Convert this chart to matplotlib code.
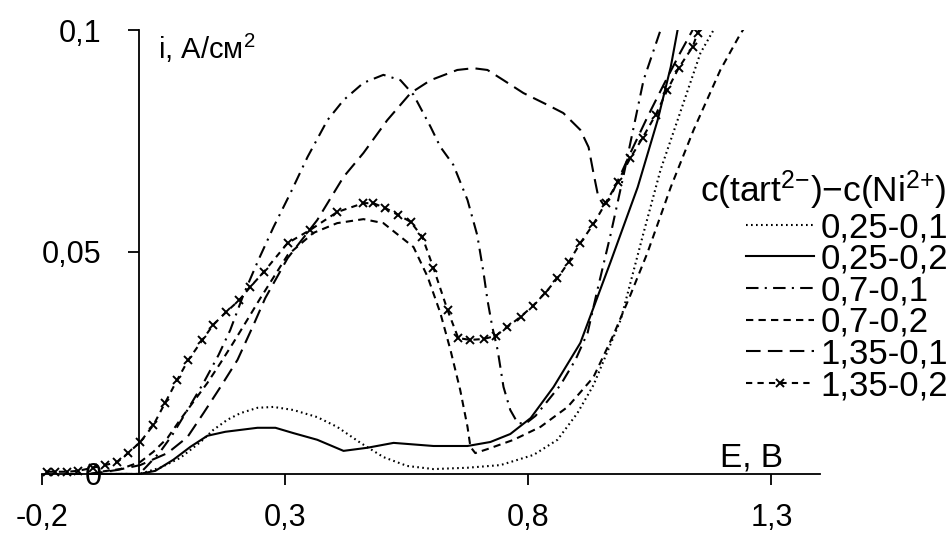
import matplotlib
matplotlib.use('Agg')
import matplotlib.pyplot as plt

plt.rcParams['font.family'] = ['Liberation Sans', 'DejaVu Sans']
plt.rcParams['mathtext.fontset'] = 'custom'
plt.rcParams['mathtext.rm'] = 'Liberation Sans'
plt.rcParams['mathtext.it'] = 'Liberation Sans:italic'
plt.rcParams['mathtext.bf'] = 'Liberation Sans:bold'

# 0,25-0,1 (dotted)
e_025_01 = [-0.1, 0.0, 0.043, 0.084, 0.126, 0.152, 0.181, 0.208, 0.243, 0.276, 0.317, 0.366, 0.407,
            0.455, 0.502, 0.551, 0.605, 0.675, 0.743, 0.811, 0.860, 0.901, 0.934, 0.990, 1.037,
            1.072, 1.107, 1.154, 1.181, 1.195]
i_025_01 = [0.0, 0.0, 0.0014, 0.0036, 0.0072, 0.0099, 0.0122, 0.0137, 0.0149, 0.0151, 0.0144, 0.0128,
            0.0106, 0.0070, 0.0038, 0.0018, 0.0011, 0.0014, 0.0020, 0.0043, 0.0077, 0.0137, 0.0200,
            0.0347, 0.0543, 0.0685, 0.0797, 0.0948, 0.1000, 0.1056]

# 0,25-0,2 (solid)
e_025_02 = [-0.1, 0.0, 0.033, 0.070, 0.105, 0.140, 0.177, 0.243, 0.280, 0.317, 0.366, 0.420, 0.469,
            0.523, 0.605, 0.675, 0.722, 0.763, 0.805, 0.852, 0.907, 0.969, 1.025, 1.066, 1.093,
            1.107, 1.117]
i_025_02 = [0.0, 0.0, 0.0007, 0.0032, 0.0061, 0.0086, 0.0095, 0.0104, 0.0104, 0.0092, 0.0077, 0.0052,
            0.0059, 0.0070, 0.0063, 0.0063, 0.0072, 0.0090, 0.0126, 0.0196, 0.0295, 0.0477, 0.0646,
            0.0797, 0.0917, 0.1000, 0.1113]

# 0,7-0,1 (dash-dot)
e_07_01 = [-0.1, 0.0, 0.016, 0.043, 0.068, 0.099, 0.132, 0.163, 0.187, 0.214, 0.245, 0.276, 0.311,
           0.346, 0.387, 0.420, 0.461, 0.502, 0.537, 0.564, 0.599, 0.619, 0.646, 0.675, 0.695,
           0.708, 0.716, 0.726, 0.737, 0.749, 0.763, 0.778, 0.794, 0.815, 0.866, 0.897, 0.922,
           0.942, 0.969, 0.996, 1.037, 1.072, 1.082]
i_07_01 = [0.0, 0.0, 0.0018, 0.0050, 0.0088, 0.0144, 0.0205, 0.0268, 0.0324, 0.0403, 0.0482, 0.0556,
           0.0633, 0.0714, 0.0797, 0.0842, 0.0881, 0.0899, 0.0887, 0.0854, 0.0782, 0.0737, 0.0696,
           0.0617, 0.0538, 0.0453, 0.0392, 0.0331, 0.0279, 0.0196, 0.0144, 0.0115, 0.0113, 0.0131,
           0.0200, 0.0257, 0.0318, 0.0414, 0.0538, 0.0673, 0.0887, 0.1000, 0.1045]

# 0,7-0,2 (short dashes)
e_07_02 = [-0.1, -0.080, -0.039, 0.002, 0.029, 0.058, 0.084, 0.111, 0.140, 0.167, 0.193, 0.222, 0.249,
           0.305, 0.358, 0.407, 0.461, 0.502, 0.564, 0.593, 0.619, 0.640, 0.660, 0.675, 0.681,
           0.691, 0.716, 0.770, 0.825, 0.881, 0.934, 0.975, 1.010, 1.045, 1.093, 1.140, 1.195,
           1.235, 1.255]
i_07_02 = [0.0, 0.0005, 0.0011, 0.0027, 0.0050, 0.0081, 0.0122, 0.0162, 0.0205, 0.0250, 0.0295, 0.0347,
           0.0396, 0.0493, 0.0543, 0.0565, 0.0574, 0.0565, 0.0511, 0.0444, 0.0363, 0.0279, 0.0189,
           0.0106, 0.0061, 0.0047, 0.0056, 0.0077, 0.0106, 0.0151, 0.0218, 0.0313, 0.0403, 0.0498,
           0.0646, 0.0775, 0.0910, 0.0989, 0.1023]

# 1,35-0,1 (long dashes)
e_135_01 = [-0.15, -0.101, -0.045, 0.002, 0.058, 0.099, 0.132, 0.167, 0.202, 0.235, 0.259, 0.305,
            0.366, 0.420, 0.461, 0.510, 0.558, 0.599, 0.654, 0.687, 0.716, 0.749, 0.790, 0.840,
            0.872, 0.907, 0.924, 0.934, 0.944, 0.955, 0.969, 1.010, 1.045, 1.078, 1.113, 1.138,
            1.154]
i_135_01 = [0.0, 0.0, 0.0009, 0.0020, 0.0047, 0.0083, 0.0137, 0.0196, 0.0257, 0.0336, 0.0396, 0.0486,
            0.0572, 0.0669, 0.0723, 0.0797, 0.0858, 0.0887, 0.0910, 0.0914, 0.0910, 0.0887, 0.0858,
            0.0831, 0.0813, 0.0775, 0.0736, 0.0678, 0.0624, 0.0606, 0.0624, 0.0723, 0.0804, 0.0876,
            0.0950, 0.1000, 0.1034]

# 1,35-0,2 (dashes with x markers)
e_135_02 = [-0.189, -0.173, -0.148, -0.126, -0.095, -0.070, -0.045, -0.023, 0.002, 0.029, 0.053, 0.078,
            0.101, 0.130, 0.152, 0.179, 0.206, 0.228, 0.256, 0.305, 0.352, 0.407, 0.461, 0.481,
            0.506, 0.533, 0.558, 0.582, 0.605, 0.634, 0.656, 0.681, 0.708, 0.733, 0.757, 0.784,
            0.809, 0.835, 0.860, 0.883, 0.907, 0.934, 0.959, 0.984, 1.010, 1.035, 1.062, 1.086,
            1.109, 1.138, 1.148, 1.158]
i_135_02 = [0.0005, 0.0005, 0.0005, 0.0007, 0.0014, 0.0020, 0.0027, 0.0047, 0.0072, 0.0110, 0.0160,
            0.0212, 0.0257, 0.0302, 0.0336, 0.0365, 0.0392, 0.0421, 0.0455, 0.0520, 0.0550, 0.0590,
            0.0610, 0.0610, 0.0599, 0.0583, 0.0568, 0.0534, 0.0464, 0.0369, 0.0306, 0.0302, 0.0304,
            0.0311, 0.0331, 0.0354, 0.0378, 0.0408, 0.0441, 0.0477, 0.0520, 0.0563, 0.0610, 0.0658,
            0.0712, 0.0757, 0.0809, 0.0865, 0.0914, 0.0962, 0.0993, 0.1018]

labels = ['0,25-0,1', '0,25-0,2', '0,7-0,1', '0,7-0,2', '1,35-0,1', '1,35-0,2']
x_ticks = [-0.2, 0.3, 0.8, 1.3]
x_ticklabels = ['-0,2', '0,3', '0,8', '1,3']
y_ticks = [0, 0.05, 0.1]
y_ticklabels = ['0', '0,05', '0,1']

fig = plt.figure(figsize=(9.51, 5.35), dpi=100)
ax = fig.add_axes([0.0442, 0.1058, 0.8181, 0.8381])

lw = 1.5
ax.plot(e_025_01, i_025_01, color='black', lw=lw, linestyle=(0, (0.8, 1.6)), label=labels[0])
ax.plot(e_025_02, i_025_02, color='black', lw=lw, linestyle='-', label=labels[1])
ax.plot(e_07_01, i_07_01, color='black', lw=lw, linestyle=(0, (6, 3, 1, 3)), label=labels[2])
ax.plot(e_07_02, i_07_02, color='black', lw=lw, linestyle=(0, (3.5, 2.5)), label=labels[3])
ax.plot(e_135_01, i_135_01, color='black', lw=lw, linestyle=(0, (7, 3.5)), label=labels[4])
ax.plot(e_135_02, i_135_02, color='black', lw=lw, linestyle=(0, (3, 2.5)), marker='x',
        markersize=6, markeredgewidth=1.4, label=labels[5])

ax.set_xlim(-0.2, 1.4)
ax.set_ylim(-0.001, 0.1)

for s in ['top', 'right']:
    ax.spines[s].set_visible(False)
ax.spines['left'].set_position(('data', 0))
ax.spines['left'].set_bounds(0, 0.1)
ax.spines['bottom'].set_position(('data', 0))
ax.spines['left'].set_linewidth(1.3)
ax.spines['bottom'].set_linewidth(1.3)

ax.set_xticks(x_ticks)
ax.set_xticklabels(x_ticklabels)
ax.set_yticks(y_ticks)
ax.set_yticklabels(y_ticklabels)
ax.tick_params(axis='x', direction='out', length=8, width=1.3, pad=13, labelsize=22)
ax.tick_params(axis='y', direction='out', length=8, width=1.3, pad=19, labelsize=22)

fig.text(158 / 951, 1 - 48 / 535, 'i, A/см$^{2}$', fontsize=21, ha='left', va='center')
fig.text(720 / 951, 1 - 458 / 535, 'E, В', fontsize=24, ha='left', va='center')
fig.text(947 / 951, 1 - 190 / 535, 'c(tart$^{2{-}}$)−c(Ni$^{2{+}}$)', fontsize=25.5,
         ha='right', va='center')

leg = ax.legend(loc='upper right', bbox_to_anchor=(948 / 951, 1 - 211 / 535),
                bbox_transform=fig.transFigure, frameon=False, fontsize=25,
                handlelength=1.95, handletextpad=0.18, labelspacing=-0.04, borderpad=0,
                borderaxespad=0)

fig.savefig('out.png', dpi=100)
